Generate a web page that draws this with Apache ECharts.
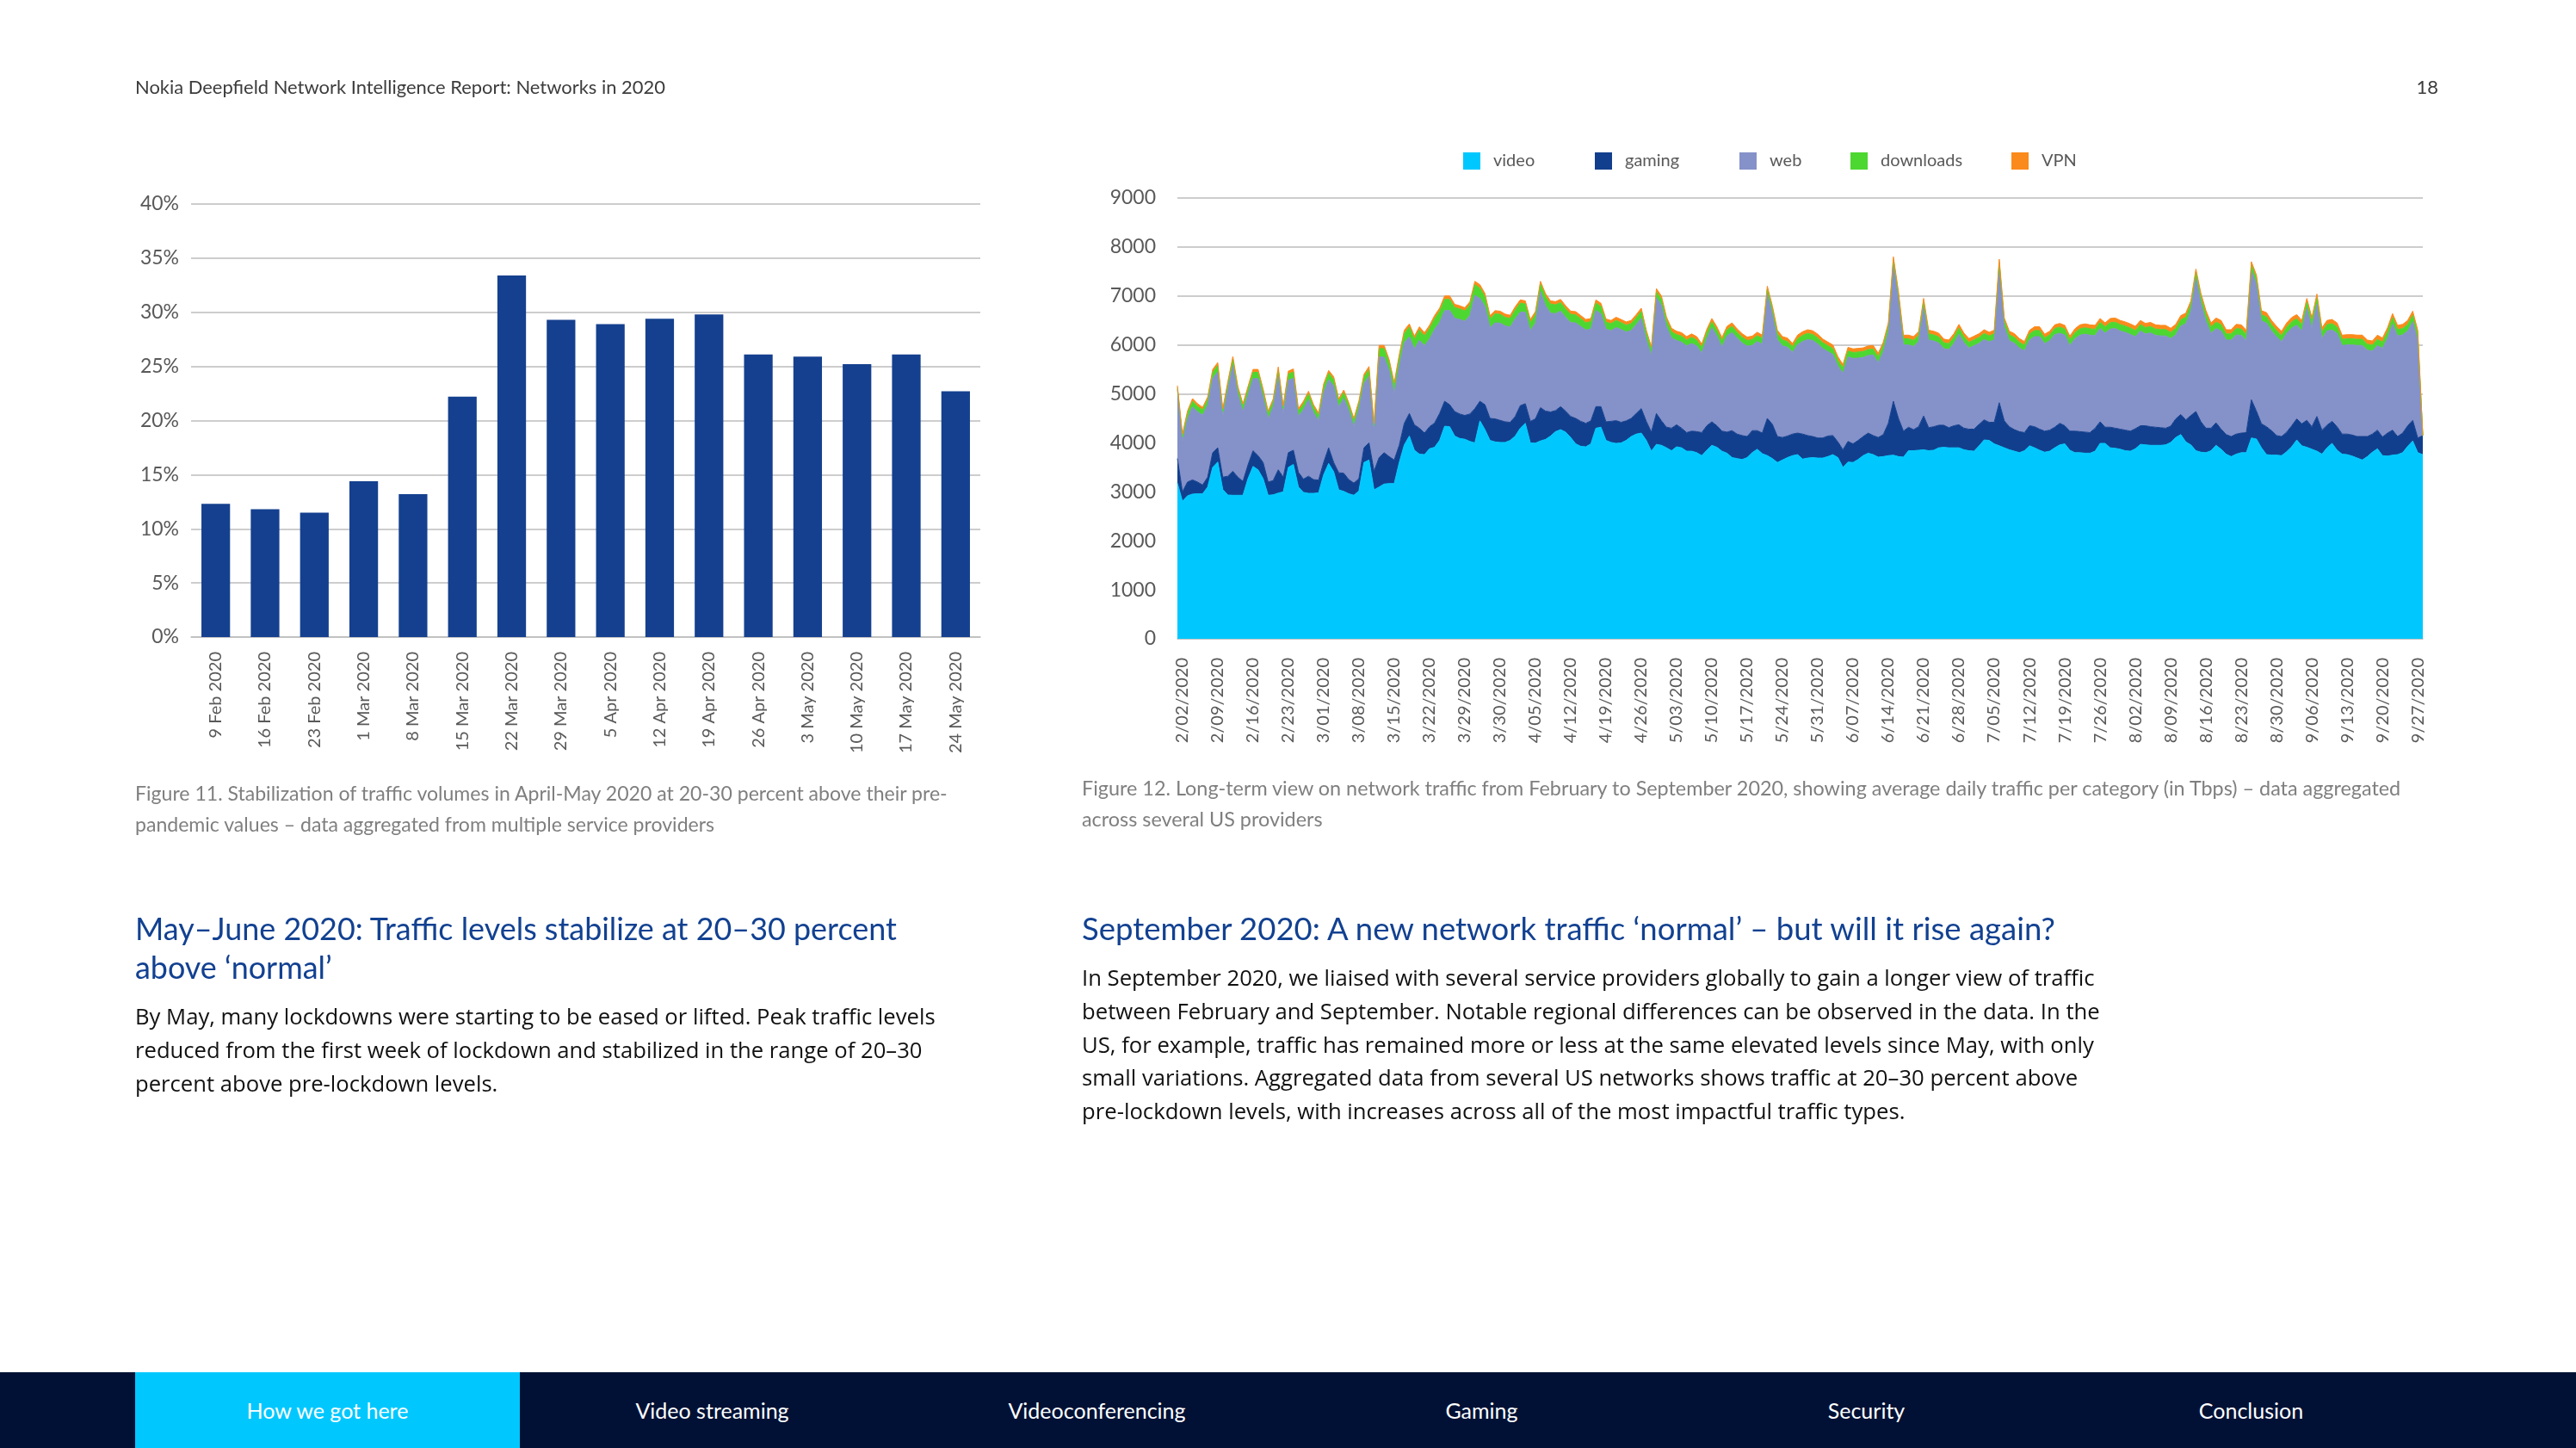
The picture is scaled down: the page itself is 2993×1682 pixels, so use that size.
<!DOCTYPE html>
<html>
<head>
<meta charset="utf-8">
<script src="https://cdn.jsdelivr.net/npm/echarts/dist/echarts.min.js"></script>
<style>
html,body{margin:0;padding:0;background:#fff;}
#page{position:relative;width:2993px;height:1682px;overflow:hidden;font-family:Lato,"Open Sans",sans-serif;}
#chart{position:absolute;left:0;top:0;width:2993px;height:1682px;}
.t{position:absolute;white-space:nowrap;}
.hdr{font-size:22px;color:#3c3c3c;line-height:24px;top:89px;}
.cap{font-size:23px;color:#7f7f7f;line-height:36px;}
.h2{font-size:36px;color:#124191;line-height:45px;top:1056px;}
.p{font-family:"Open Sans",Lato,sans-serif;font-size:24.5px;color:#111;line-height:38.8px;}
#nav{position:absolute;left:0;top:1594px;width:2993px;height:88px;background:#001135;}
.tab{position:absolute;top:0;height:88px;width:447px;line-height:88px;text-align:center;color:#fff;font-size:25px;}
</style>
</head>
<body>
<div id="page">
  <div id="chart"></div>
  <div class="t hdr fit" data-w="616" style="left:157px;">Nokia Deepfield Network Intelligence Report: Networks in 2020</div>
  <div class="t hdr" style="right:160px;">18</div>

  <div class="t cap fit" data-w="944" style="left:157px;top:903px;">Figure 11. Stabilization of traffic volumes in April-May 2020 at 20-30 percent above their pre-<br>pandemic values – data aggregated from multiple service providers</div>
  <div class="t cap fit" data-w="1533" style="left:1257px;top:897px;">Figure 12. Long-term view on network traffic from February to September 2020, showing average daily traffic per category (in Tbps) – data aggregated<br>across several US providers</div>

  <div class="t h2 fit" data-w="885" style="left:157px;">May–June 2020: Traffic levels stabilize at 20–30 percent<br>above ‘normal’</div>
  <div class="t h2 fit" data-w="1131" style="left:1257px;">September 2020: A new network traffic ‘normal’ – but will it rise again?</div>

  <div class="t p fit" data-w="930" style="left:157px;top:1162px;">By May, many lockdowns were starting to be eased or lifted. Peak traffic levels<br>reduced from the first week of lockdown and stabilized in the range of 20–30<br>percent above pre-lockdown levels.</div>
  <div class="t p fit" data-w="1183" style="left:1257px;top:1117px;">In September 2020, we liaised with several service providers globally to gain a longer view of traffic<br>between February and September. Notable regional differences can be observed in the data. In the<br>US, for example, traffic has remained more or less at the same elevated levels since May, with only<br>small variations. Aggregated data from several US networks shows traffic at 20–30 percent above<br>pre-lockdown levels, with increases across all of the most impactful traffic types.</div>

  <div id="nav">
    <div class="tab" style="left:157px;background:#00c8ff;">How we got here</div>
    <div class="tab" style="left:604px;">Video streaming</div>
    <div class="tab" style="left:1051px;">Videoconferencing</div>
    <div class="tab" style="left:1498px;">Gaming</div>
    <div class="tab" style="left:1945px;">Security</div>
    <div class="tab" style="left:2392px;">Conclusion</div>
  </div>
</div>
<script>
// ---------- Figure 11 data ----------
const barCategories = ['9 Feb 2020','16 Feb 2020','23 Feb 2020','1 Mar 2020','8 Mar 2020','15 Mar 2020','22 Mar 2020','29 Mar 2020','5 Apr 2020','12 Apr 2020','19 Apr 2020','26 Apr 2020','3 May 2020','10 May 2020','17 May 2020','24 May 2020'];
const barValues = [12.3, 11.8, 11.5, 14.4, 13.2, 22.2, 33.4, 29.3, 28.9, 29.4, 29.8, 26.1, 25.9, 25.2, 26.1, 22.7];

// ---------- Figure 12 data (daily, Tbps) ----------
const areaTickLabels = ['2/02/2020','2/09/2020','2/16/2020','2/23/2020','3/01/2020','3/08/2020','3/15/2020','3/22/2020','3/29/2020','3/30/2020','4/05/2020','4/12/2020','4/19/2020','4/26/2020','5/03/2020','5/10/2020','5/17/2020','5/24/2020','5/31/2020','6/07/2020','6/14/2020','6/21/2020','6/28/2020','7/05/2020','7/12/2020','7/19/2020','7/26/2020','8/02/2020','8/09/2020','8/16/2020','8/23/2020','8/30/2020','9/06/2020','9/13/2020','9/20/2020','9/27/2020'];

const video = [
3180,2810,2920,2955,2960,2960,3100,3500,3610,3050,
2935,2930,2930,2930,3270,3520,3450,3270,2930,2940,
2975,3000,3500,3560,3100,2990,2970,2970,2980,3350,
3580,3410,3040,3010,2960,2930,3020,3600,3650,3040,
3100,3160,3170,3170,3600,3960,4140,3850,3770,3760,
3880,3910,4050,4340,4330,4140,4090,4075,4030,4000,
4450,4270,4050,4020,4010,4010,4050,4140,4300,4400,
4000,3995,4040,4070,4140,4230,4270,4220,4110,3980,
3930,3920,3980,4300,4320,4050,4010,3990,4000,4050,
4130,4180,4200,4050,3830,3970,3950,3900,3840,3920,
3900,3830,3830,3800,3740,3850,3950,3910,3830,3790,
3700,3680,3660,3700,3800,3870,3780,3740,3680,3600,
3650,3700,3740,3760,3670,3690,3700,3690,3690,3720,
3760,3700,3500,3610,3600,3660,3740,3790,3760,3710,
3720,3740,3750,3720,3710,3840,3840,3850,3860,3840,
3850,3900,3910,3900,3900,3900,3860,3840,3830,3940,
4060,4050,3980,3940,3900,3860,3830,3800,3840,3940,
3900,3850,3810,3830,3900,3960,3980,3850,3800,3800,
3790,3790,3830,3990,3990,3900,3890,3870,3840,3830,
3880,3970,3960,3950,3950,3950,3960,4010,4110,4170,
4020,3960,3840,3810,3800,3840,3950,3870,3770,3720,
3770,3800,3800,4100,4080,3900,3760,3750,3750,3740,
3820,3920,4060,3940,3910,3870,3830,3770,3900,3990,
3850,3770,3760,3730,3690,3650,3720,3810,3880,3740,
3730,3750,3760,3800,3930,4040,3800,3760];

const gaming = [
500,190,280,290,240,180,200,300,290,250,
385,490,370,285,280,320,290,330,270,290,
475,300,300,290,300,270,350,280,260,250,
320,190,350,370,290,250,250,300,350,380,
600,640,550,480,350,440,460,520,530,440,
450,495,550,510,450,500,500,485,560,700,
400,510,450,470,450,420,370,400,460,400,
440,495,680,580,490,430,470,430,430,520,
510,480,470,440,420,380,430,465,420,400,
370,420,500,390,390,630,500,420,460,450,
400,380,410,430,470,500,480,440,410,430,
550,500,490,430,450,380,420,760,700,530,
460,440,440,440,510,460,430,410,410,420,
390,320,360,420,380,390,390,410,390,400,
450,660,1100,780,530,480,430,480,690,470,
480,460,450,410,450,470,440,440,450,440,
410,370,440,880,550,470,440,430,370,410,
430,430,430,430,420,440,370,390,440,430,
430,420,470,440,330,420,410,410,420,410,
410,380,390,380,370,360,340,330,380,410,
450,600,800,620,500,460,460,410,400,410,
410,400,410,780,570,490,570,500,400,390,
400,430,430,450,550,460,710,490,460,450,
480,410,420,430,440,480,410,370,380,380,
470,510,370,400,420,420,300,390];

const web = [
1410,1030,1285,1490,1435,1425,1470,1515,1550,1240,
1765,2160,1685,1425,1430,1470,1575,1330,1295,1510,
1915,1300,1480,1470,1140,1425,1565,1370,1215,1425,
1390,1565,1345,1530,1410,1165,1425,1310,1365,840,
2055,1950,1755,1370,1615,1645,1565,1550,1795,1785,
1790,1910,1860,1850,1925,1905,1930,1925,2010,2310,
2100,2005,1855,1960,1985,1960,1945,1995,1910,1865,
1850,1955,2370,2155,2020,1980,1950,1915,1915,1950,
1935,1905,1875,1965,1895,1895,1850,1900,1895,1815,
1795,1815,1845,1665,1560,2370,2355,2050,1845,1720,
1755,1770,1790,1750,1625,1780,1925,1830,1720,1965,
2005,1960,1890,1845,1740,1820,1815,2540,2245,1980,
1870,1815,1670,1805,1890,1960,1960,1920,1825,1725,
1655,1550,1560,1725,1745,1680,1615,1585,1645,1530,
1690,1860,2800,2425,1760,1680,1700,1740,2220,1790,
1750,1680,1565,1595,1680,1850,1745,1655,1705,1655,
1640,1645,1685,2780,1915,1755,1765,1705,1670,1750,
1840,1890,1785,1825,1890,1840,1850,1745,1885,1970,
2000,1990,1890,1905,1920,2005,2035,2005,1995,1975,
1880,1935,1875,1915,1875,1875,1885,1790,1715,1805,
1965,2135,2725,2420,2185,1935,1925,2005,1930,1970,
2025,1995,1880,2635,2590,2100,2115,2035,2015,1940,
2015,1995,1915,1895,2285,2015,2295,1875,1925,1865,
1905,1810,1820,1840,1860,1860,1765,1695,1730,1810,
1935,2165,2055,2005,1935,2015,1990,0];

const downloads = [
40,100,110,115,110,105,110,125,130,105,
110,125,110,105,115,130,125,115,100,105,
125,105,125,130,105,110,115,105,100,120,
130,125,110,115,105,100,110,130,135,90,
170,175,160,150,170,190,200,195,210,200,
215,220,225,230,225,220,215,210,215,220,
210,200,180,185,180,175,175,180,185,170,
165,170,150,180,185,180,175,170,170,165,
160,150,150,150,150,140,145,145,140,140,
140,140,140,130,120,120,125,130,125,120,
125,120,125,120,115,120,115,120,120,125,
125,120,120,115,120,120,115,100,110,120,
120,115,110,120,125,125,125,125,120,120,
120,115,110,120,120,125,120,120,120,115,
125,120,90,110,125,125,125,125,110,125,
125,125,120,120,125,125,120,120,120,120,
125,120,120,90,115,120,120,120,115,125,
125,125,120,120,125,125,125,120,125,130,
130,130,130,125,130,130,130,130,130,130,
125,130,130,130,130,130,130,125,130,130,
130,125,110,120,130,130,130,130,125,125,
130,130,125,110,115,125,130,130,130,125,
130,130,130,130,125,130,125,130,130,130,
130,125,125,125,125,125,120,120,125,125,
130,130,130,130,130,130,125,0];

const vpn = [
40,50,55,55,55,55,55,60,60,55,
55,60,55,55,55,60,60,55,55,55,
60,55,60,60,55,55,55,55,55,55,
60,60,55,55,55,55,55,60,60,50,
65,65,65,60,65,65,65,65,65,65,
65,65,65,70,70,65,65,65,65,70,
70,65,65,65,65,65,65,65,65,65,
65,65,60,65,65,65,65,65,65,65,
65,65,65,65,65,65,65,65,65,65,
65,65,65,65,60,60,70,70,70,70,
70,70,70,70,70,70,70,70,70,70,
70,70,70,70,70,70,70,60,65,70,
70,70,70,75,75,75,75,75,75,75,
75,75,70,75,75,75,75,75,75,75,
75,70,60,65,75,75,75,75,70,75,
75,75,75,75,75,75,75,75,75,75,
75,75,75,60,70,75,75,75,75,75,
75,75,75,75,75,75,75,75,80,80,
80,80,80,80,80,85,85,85,85,85,
85,85,85,85,85,85,85,85,85,85,
85,80,75,80,85,85,85,85,85,85,
85,85,85,75,75,85,85,85,85,85,
85,85,85,85,80,85,80,85,85,85,
85,85,85,85,85,85,85,85,85,85,
85,85,85,85,85,85,85,0];

const seriesNames = ['video','gaming','web','downloads','VPN'];
const seriesColors = ['#00c8ff','#123f8d','#8591c9','#4dd731','#fb8a1c'];
const seriesData = [video, gaming, web, downloads, vpn];
const legendLeft = [1700, 1853, 2021, 2150, 2337];
const dayIndex = video.map((_, i) => String(i));

// fit text blocks to the measured widths of the reference lines
function fitText() {
  document.querySelectorAll('.fit').forEach(el => {
    if (!el.dataset.orig) el.dataset.orig = el.innerHTML;
    const lines = el.dataset.orig.split('<br>');
    el.innerHTML = lines.map(l => '<span style="display:inline-block">' + l + '</span>').join('<br>');
    const base = parseFloat(getComputedStyle(el).fontSize);
    let w = 0;
    el.querySelectorAll('span').forEach(s => { w = Math.max(w, s.getBoundingClientRect().width); });
    const target = parseFloat(el.dataset.w);
    if (w > 0) el.style.fontSize = (base * target / w).toFixed(2) + 'px';
  });
}
fitText();

const axisGrey = '#595959';
const gridGrey = '#bdbdbd';
const FONT = 'Lato';

const chart = echarts.init(document.getElementById('chart'), null, {renderer: 'canvas'});
chart.setOption({
  animation: false,
  backgroundColor: 'transparent',
  textStyle: {fontFamily: FONT},
  legend: seriesNames.map((name, i) => ({
    data: [name],
    left: legendLeft[i], top: 177, padding: 0,
    icon: 'rect', itemWidth: 20, itemHeight: 20,
    textStyle: {fontSize: 20, color: axisGrey, fontFamily: FONT, padding: [0, 0, 0, 10]}
  })),
  grid: [
    {left: 222, top: 237, width: 917, height: 503},
    {left: 1368, top: 230, width: 1447, height: 512}
  ],
  xAxis: [
    {
      gridIndex: 0, type: 'category', data: barCategories,
      axisTick: {show: false},
      axisLine: {lineStyle: {color: gridGrey, width: 1.5}},
      axisLabel: {rotate: 90, interval: 0, fontSize: 20, color: axisGrey, margin: 17, fontFamily: FONT}
    },
    {
      gridIndex: 1, type: 'category', data: dayIndex, boundaryGap: false,
      axisTick: {show: false},
      axisLine: {lineStyle: {color: gridGrey, width: 1.5}},
      axisLabel: {
        rotate: 90, fontSize: 20, color: axisGrey, margin: 22, fontFamily: FONT,
        interval: function (idx) { return (idx - 1) % 7 === 0 && (idx - 1) / 7 < areaTickLabels.length; },
        formatter: function (v, idx) { const k = (idx - 1) / 7; return areaTickLabels[k] || ''; }
      }
    }
  ],
  yAxis: [
    {
      gridIndex: 0, type: 'value', min: 0, max: 40, interval: 5,
      axisLine: {show: false}, axisTick: {show: false},
      splitLine: {lineStyle: {color: gridGrey, width: 1.5}},
      axisLabel: {formatter: '{value}%', fontSize: 23, color: axisGrey, margin: 14, fontFamily: FONT}
    },
    {
      gridIndex: 1, type: 'value', min: 0, max: 9000, interval: 1000,
      axisLine: {show: false}, axisTick: {show: false},
      splitLine: {lineStyle: {color: gridGrey, width: 1.5}},
      axisLabel: {formatter: function (v) { return String(v); }, fontSize: 23, color: axisGrey, margin: 25, fontFamily: FONT}
    }
  ],
  series: [
    {
      type: 'bar', xAxisIndex: 0, yAxisIndex: 0, data: barValues,
      barWidth: '58%', itemStyle: {color: '#15408f'}
    }
  ].concat(seriesNames.map((name, i) => ({
    name: name, type: 'line', xAxisIndex: 1, yAxisIndex: 1, stack: 'traffic',
    data: seriesData[i], symbol: 'none', smooth: false,
    lineStyle: {width: 1, color: seriesColors[i]},
    itemStyle: {color: seriesColors[i]},
    areaStyle: {color: seriesColors[i], opacity: 1}
  })))
});
</script>
</body>
</html>
